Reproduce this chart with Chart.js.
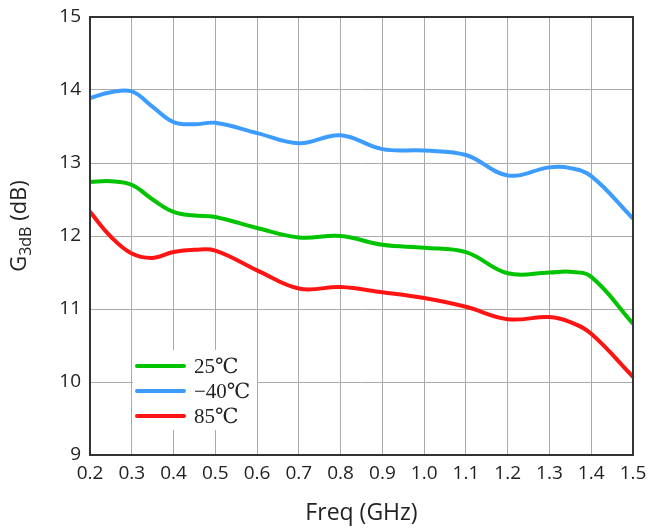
<!DOCTYPE html>
<html>
<head>
<meta charset="utf-8">
<script src="https://cdn.jsdelivr.net/npm/chart.js@4/dist/chart.umd.min.js"></script>
<style>
  html, body { margin: 0; padding: 0; background: #fff; }
  #wrap { width: 649px; height: 529px; }
</style>
</head>
<body>
<div id="wrap"><canvas id="c" width="649" height="529"></canvas></div>
<script>
// Frequency sample points (GHz)
const freq = [0.2, 0.25, 0.3, 0.35, 0.4, 0.45, 0.5, 0.6, 0.7, 0.8, 0.9, 1.0, 1.1, 1.2, 1.3, 1.35, 1.4, 1.5];

// 3 dB gain (dB) per temperature
const gain25 = [12.74, 12.75, 12.70, 12.50, 12.33, 12.28, 12.26, 12.11, 11.98, 12.00, 11.88, 11.84, 11.78, 11.49, 11.50, 11.51, 11.44, 10.80];
const gainM40 = [13.89, 13.97, 13.98, 13.77, 13.56, 13.53, 13.55, 13.41, 13.27, 13.38, 13.19, 13.17, 13.11, 12.83, 12.94, 12.93, 12.82, 12.24];
const gain85 = [12.33, 11.99, 11.76, 11.70, 11.78, 11.81, 11.80, 11.53, 11.28, 11.30, 11.23, 11.15, 11.03, 10.86, 10.89, 10.82, 10.66, 10.07];

const seriesLabels = ['25\u2103', '\u221240\u2103', '85\u2103'];
const seriesColors = ['#00c400', '#3d9cff', '#ff1414'];

const xTitle = 'Freq (GHz)';
const yTitleMain = 'G';
const yTitleSub = '3dB';
const yTitleTail = ' (dB)';

const toPoints = arr => arr.map((v, i) => ({ x: freq[i], y: v }));

const SANS = "'Open Sans', 'Noto Sans', sans-serif";
const TICK_FONT = { family: SANS, size: 19 };

// Frame around the plot area, axis titles and the in-plot legend
const decorations = {
  id: 'decorations',
  afterDatasetsDraw(chart) {
    const { ctx, chartArea: a } = chart;
    ctx.save();

    // legend box
    const bx = 133, by = 350, bw = 124, bh = 80;
    ctx.fillStyle = '#ffffff';
    ctx.fillRect(bx, by, bw, bh);
    chart.data.datasets.forEach((ds, i) => {
      const y = 366 + i * 25;
      ctx.strokeStyle = ds.borderColor;
      ctx.lineWidth = 4;
      ctx.lineCap = 'round';
      ctx.beginPath();
      ctx.moveTo(137, y);
      ctx.lineTo(184, y);
      ctx.stroke();
      ctx.fillStyle = '#222';
      ctx.font = "21px 'Liberation Serif', 'DejaVu Serif', serif";
      ctx.textBaseline = 'middle';
      ctx.textAlign = 'left';
      ctx.fillText(ds.label, 194, y + 1);
    });

    // plot frame
    ctx.strokeStyle = '#333';
    ctx.lineWidth = 2;
    ctx.lineCap = 'butt';
    ctx.strokeRect(a.left, a.top, a.right - a.left, a.bottom - a.top);

    // x title
    ctx.fillStyle = '#222';
    ctx.font = "23px " + SANS;
    ctx.textAlign = 'center';
    ctx.textBaseline = 'middle';
    ctx.fillText(xTitle, (a.left + a.right) / 2, 513);

    // y title, rotated, with subscript
    const mainFont = "22px " + SANS;
    const subFont = "16px " + SANS;
    ctx.font = mainFont;
    const wMain = ctx.measureText(yTitleMain).width;
    const wTail = ctx.measureText(yTitleTail).width;
    ctx.font = subFont;
    const wSub = ctx.measureText(yTitleSub).width;
    const total = wMain + wSub + wTail;
    ctx.translate(26, 226);
    ctx.rotate(-Math.PI / 2);
    ctx.textAlign = 'left';
    ctx.textBaseline = 'alphabetic';
    let x = -total / 2;
    ctx.font = mainFont;
    ctx.fillText(yTitleMain, x, 0);
    x += wMain;
    ctx.font = subFont;
    ctx.fillText(yTitleSub, x, 5);
    x += wSub;
    ctx.font = mainFont;
    ctx.fillText(yTitleTail, x, 0);

    ctx.restore();
  }
};

new Chart(document.getElementById('c'), {
  type: 'line',
  data: {
    datasets: [
      { label: seriesLabels[0], data: toPoints(gain25), borderColor: seriesColors[0] },
      { label: seriesLabels[1], data: toPoints(gainM40), borderColor: seriesColors[1] },
      { label: seriesLabels[2], data: toPoints(gain85), borderColor: seriesColors[2] }
    ].map(d => Object.assign(d, {
      borderWidth: 4,
      pointRadius: 0,
      tension: 0.4,
      fill: false,
      borderCapStyle: 'round',
      borderJoinStyle: 'round'
    }))
  },
  options: {
    responsive: false,
    animation: false,
    devicePixelRatio: 1,
    layout: { padding: { left: 0, right: 16, top: 17, bottom: 0 } },
    plugins: { legend: { display: false }, tooltip: { enabled: false } },
    scales: {
      x: {
        type: 'linear',
        min: 0.2,
        max: 1.5,
        afterFit(s) { s.height = 74; s.paddingLeft = 0; s.paddingRight = 0; },
        afterBuildTicks(s) {
          s.ticks = [];
          for (let i = 0; i <= 13; i++) s.ticks.push({ value: +(0.2 + i * 0.1).toFixed(1) });
        },
        ticks: {
          color: '#222',
          font: TICK_FONT,
          padding: 7,
          maxRotation: 0,
          autoSkip: false,
          callback: v => v.toFixed(1)
        },
        grid: { color: '#aaaaaa', lineWidth: 1, drawTicks: false },
        border: { display: false }
      },
      y: {
        min: 9,
        max: 15,
        afterFit(s) { s.width = 90; s.paddingTop = 0; s.paddingBottom = 0; },
        ticks: { stepSize: 1, color: '#222', font: TICK_FONT, padding: 9 },
        grid: { color: '#aaaaaa', lineWidth: 1, drawTicks: false },
        border: { display: false }
      }
    }
  },
  plugins: [decorations]
});
</script>
</body>
</html>
